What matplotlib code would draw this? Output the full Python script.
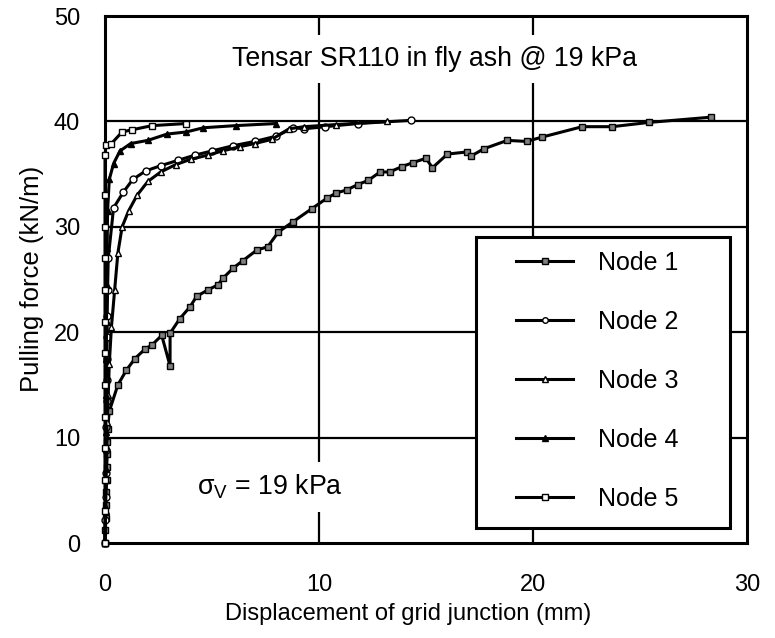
import matplotlib
matplotlib.use("Agg")
from matplotlib import pyplot as plt
from matplotlib.patches import Rectangle

plt.rcParams['font.family'] = ['Liberation Sans', 'DejaVu Sans']

# desplazamiento (mm) y fuerza (kN/m) para cada nodo
n1_x = [0, 0.02, 0.03, 0.05, 0.05, 0.07, 0.08, 0.1, 0.1, 0.12, 0.2, 0.6, 1.0, 1.4, 1.87, 2.2, 2.65, 3.04, 3.04, 3.5,
        3.97, 4.28, 4.8, 5.28, 5.5, 6.0, 6.45, 7.1, 7.6, 8.1, 8.8, 9.65, 10.36, 10.8, 11.3, 11.8, 12.3, 12.85, 13.3, 13.86,
        14.4, 15.0, 15.3, 16.0, 16.9, 17.1, 17.7, 18.8, 19.7, 20.4, 22.3, 23.7, 25.4, 28.3]
n1_y = [0, 1.2, 2.4, 3.6, 4.8, 6.0, 7.2, 8.4, 9.6, 10.8, 12.5, 15.0, 16.4, 17.5, 18.4, 18.8, 19.7, 16.8, 19.9, 21.3,
        22.4, 23.4, 24.0, 24.5, 25.1, 26.1, 26.8, 27.8, 28.1, 29.5, 30.5, 31.7, 32.7, 33.2, 33.5, 34.0, 34.4, 35.2, 35.2, 35.7,
        36.1, 36.5, 35.6, 36.9, 37.1, 36.7, 37.4, 38.2, 38.1, 38.5, 39.5, 39.5, 39.9, 40.4]

n2_x = [0, 0.02, 0.03, 0.04, 0.05, 0.06, 0.07, 0.08, 0.08, 0.1, 0.1, 0.12, 0.15, 0.4, 0.86, 1.3, 1.9, 2.6, 3.4, 4.2,
        5.0, 6.0, 7.0, 8.0, 8.8, 9.3, 10.3, 11.8, 14.3]
n2_y = [0, 2.2, 4.4, 6.6, 8.8, 11, 13.5, 15.5, 17.5, 19.5, 21.5, 24, 27, 31.8, 33.3, 34.5, 35.3, 35.8, 36.3, 36.8,
        37.2, 37.7, 38.1, 38.6, 39.4, 39.3, 39.5, 39.8, 40.1]

n3_x = [0, 0.03, 0.05, 0.08, 0.1, 0.15, 0.2, 0.3, 0.45, 0.6, 0.8, 1.1, 1.5, 2.0, 2.6, 3.3, 4.0, 4.8, 5.5, 6.3,
        7.0, 7.8, 8.6, 9.3, 10.8, 13.2]
n3_y = [0, 3, 6, 9, 11.5, 14, 17, 20.5, 24, 27.5, 30, 31.5, 33, 34.3, 35.2, 35.9, 36.4, 36.8, 37.2, 37.6,
        37.9, 38.3, 39.3, 39.5, 39.7, 40.0]

n4_x = [0, 0.02, 0.03, 0.04, 0.05, 0.06, 0.07, 0.08, 0.1, 0.12, 0.2, 0.4, 0.7, 1.2, 2.0, 2.9, 3.8, 4.6, 6.1, 8.0]
n4_y = [0, 3.5, 7, 10.5, 14, 17.5, 21, 24.5, 28, 31.5, 34.5, 36.0, 37.2, 37.9, 38.2, 38.8, 39.0, 39.4, 39.6, 39.8]

n5_x = [0, 0, 0, 0, 0, 0, 0, 0, 0, 0, 0, 0, 0, 0.05, 0.3, 0.8, 1.25, 2.2, 3.8]
n5_y = [0, 3, 6, 9, 12, 15, 18, 21, 24, 27, 30, 33, 36.8, 37.8, 37.9, 39.0, 39.2, 39.6, 39.8]

fig = plt.figure(figsize=(7.75, 6.38), dpi=100)
ax = fig.add_axes([0.1355, 0.1489, 0.8284, 0.826])

# lineas de la grilla
for gx in [10, 20]:
    ax.axvline(gx, color='k', lw=1.6, zorder=1)
for gy in [10, 20, 30, 40]:
    ax.axhline(gy, color='k', lw=1.6, zorder=1)

estilo = dict(color='k', lw=2.2, ms=5, mec='k', mew=1.0, clip_on=False, zorder=3)
ax.plot(n1_x, n1_y, marker='s', mfc='0.5', label='Node 1', **estilo)
ax.plot(n2_x, n2_y, marker='o', mfc='white', label='Node 2', **estilo)
ax.plot(n3_x, n3_y, marker='^', mfc='white', label='Node 3', **estilo)
ax.plot(n4_x, n4_y, marker='^', mfc='k', label='Node 4', **estilo)
ax.plot(n5_x, n5_y, marker='s', mfc='white', label='Node 5', **estilo)

ax.set_xlim(0, 30)
ax.set_ylim(0, 50)
ax.set_xticks([0, 10, 20, 30])
ax.set_yticks([0, 10, 20, 30, 40, 50])
ax.tick_params(length=0, labelsize=17)
ax.tick_params(axis='x', pad=22)
ax.tick_params(axis='y', pad=18)
for s in ax.spines.values():
    s.set_linewidth(2.2)

ax.text(15.4, 45.9, "Tensar SR110 in fly ash @ 19 kPa", fontsize=19.3, ha='center', va='center',
        bbox=dict(facecolor='white', edgecolor='none', pad=8), zorder=4)
ax.text(4.3, 5.3, "σ$_\\mathregular{V}$ = 19 kPa", fontsize=19.3, ha='left', va='center',
        bbox=dict(facecolor='white', edgecolor='none', pad=8), zorder=4)

# marco de la leyenda dibujado aparte
marco = Rectangle((0.578, 0.0285), 0.3955, 0.552, transform=ax.transAxes, facecolor='white',
                  edgecolor='k', lw=2.2, zorder=4)
ax.add_patch(marco)
leg = ax.legend(loc='upper left', bbox_to_anchor=(0.640, 0.554), fontsize=18, frameon=False,
                handlelength=2.3, labelspacing=1.4, borderpad=0, handletextpad=1.0,
                markerscale=0.8, borderaxespad=0)
leg.set_zorder(5)

fig.text(0.527, 0.038, "Displacement of grid junction (mm)", fontsize=17, ha='center', va='center')
fig.text(0.041, 0.563, "Pulling force (kN/m)", fontsize=18.5, ha='center', va='center', rotation=90)

plt.savefig("out.png", dpi=100)
